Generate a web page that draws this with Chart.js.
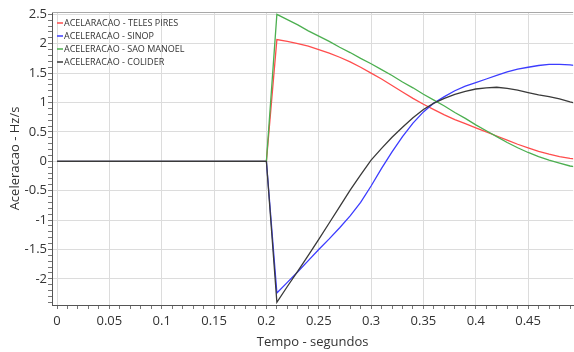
<!DOCTYPE html>
<html>
<head>
<meta charset="utf-8">
<script src="https://cdn.jsdelivr.net/npm/chart.js@4/dist/chart.umd.min.js"></script>
<style>
  body { margin: 0; background: #fff; }
  #wrap { width: 574px; height: 352px; }
</style>
</head>
<body>
<div id="wrap"><canvas id="chart" width="574" height="352"></canvas></div>
<script>
const tempo = [0, 0.2, 0.21, 0.22, 0.23, 0.24, 0.25, 0.26, 0.27, 0.28, 0.29, 0.3,
  0.31, 0.32, 0.33, 0.34, 0.35, 0.36, 0.37, 0.38, 0.39, 0.4,
  0.41, 0.42, 0.43, 0.44, 0.45, 0.46, 0.47, 0.48, 0.49, 0.5];

const telesPires = [0, 0, 2.07, 2.04, 2.0, 1.96, 1.9, 1.84, 1.77, 1.69, 1.6, 1.5,
  1.4, 1.29, 1.18, 1.07, 0.97, 0.88, 0.79, 0.71, 0.64, 0.57,
  0.5, 0.43, 0.36, 0.29, 0.23, 0.17, 0.12, 0.08, 0.05, 0.03];
const sinop = [0, 0, -2.24, -2.06, -1.88, -1.69, -1.5, -1.32, -1.13, -0.93, -0.7, -0.42,
  -0.12, 0.16, 0.42, 0.65, 0.84, 0.99, 1.1, 1.2, 1.28, 1.34,
  1.4, 1.46, 1.52, 1.57, 1.6, 1.63, 1.65, 1.65, 1.64, 1.62];
const saoManoel = [0, 0, 2.5, 2.41, 2.32, 2.22, 2.13, 2.04, 1.94, 1.85, 1.75, 1.66,
  1.56, 1.46, 1.35, 1.25, 1.14, 1.04, 0.94, 0.83, 0.73, 0.62,
  0.52, 0.42, 0.32, 0.23, 0.15, 0.08, 0.02, -0.03, -0.08, -0.11];
const colider = [0, 0, -2.4, -2.13, -1.87, -1.6, -1.33, -1.05, -0.77, -0.49, -0.23, 0.02,
  0.22, 0.41, 0.58, 0.74, 0.88, 0.99, 1.07, 1.14, 1.19, 1.23,
  1.25, 1.26, 1.24, 1.21, 1.17, 1.13, 1.1, 1.06, 1.01, 0.97];

const xMajor = [0, 0.05, 0.1, 0.15, 0.2, 0.25, 0.3, 0.35, 0.4, 0.45];
const yMajor = [-2, -1.5, -1, -0.5, 0, 0.5, 1, 1.5, 2, 2.5];

const seriesNames = [
  "ACELARACAO - TELES PIRES",
  "ACELERACAO - SINOP",
  "ACELERACAO - SAO MANOEL",
  "ACELERACAO - COLIDER",
];
const seriesColors = ["#ff4d4d", "#3c3cff", "#4caf50", "#3a3a3a"];
const seriesValues = [telesPires, sinop, saoManoel, colider];

const FONT = "'Open Sans', 'Noto Sans', sans-serif";

function points(values) {
  return tempo.map((t, i) => ({ x: t, y: values[i] }));
}

function isMajor(list, v) {
  return list.some((m) => Math.abs(m - v) < 1e-9);
}

// minor ticks every 0.01 on x and 0.1 on y, labels only on the majors
function steps(from, to, step) {
  const out = [];
  const n = Math.round((to - from) / step);
  for (let i = 0; i <= n; i++) out.push(Math.round((from + i * step) * 1000) / 1000);
  return out;
}

const insideLegend = {
  id: "insideLegend",
  afterDatasetsDraw(chart) {
    const { ctx, chartArea } = chart;
    ctx.save();
    ctx.font = "9px " + FONT;
    ctx.textBaseline = "middle";
    chart.data.datasets.forEach((ds, i) => {
      const y = chartArea.top + 11 + i * 13;
      const x = chartArea.left + 5;
      ctx.strokeStyle = ds.borderColor;
      ctx.lineWidth = 1.5;
      ctx.beginPath();
      ctx.moveTo(x, y);
      ctx.lineTo(x + 6, y);
      ctx.stroke();
      ctx.fillStyle = "#333";
      ctx.fillText(ds.label, x + 7, y);
    });
    // frame line along the top of the plot
    ctx.strokeStyle = "#a8a8a8";
    ctx.lineWidth = 1;
    ctx.beginPath();
    ctx.moveTo(chartArea.left, chartArea.top + 0.5);
    ctx.lineTo(chartArea.right, chartArea.top + 0.5);
    ctx.stroke();
    ctx.restore();
  },
};

new Chart(document.getElementById("chart"), {
  type: "line",
  data: {
    datasets: seriesNames.map((name, i) => ({
      label: name,
      data: points(seriesValues[i]),
      borderColor: seriesColors[i],
      backgroundColor: seriesColors[i],
      borderWidth: 1.3,
      pointRadius: 0,
      tension: 0,
      fill: false,
      order: seriesNames.length - i, // later series on top
    })),
  },
  options: {
    responsive: false,
    animation: false,
    layout: { padding: { top: 12, right: 0, left: 0, bottom: 0 } },
    plugins: {
      legend: { display: false },
      tooltip: { enabled: false },
    },
    scales: {
      x: {
        type: "linear",
        min: -0.0048,
        max: 0.493,
        afterFit(scale) { scale.height = 47; },
        afterBuildTicks(scale) {
          scale.ticks = steps(0, 0.49, 0.01).map((v) => ({ value: v }));
        },
        ticks: {
          autoSkip: false,
          maxRotation: 0,
          padding: 4,
          color: "#333",
          font: { family: FONT, size: 13 },
          callback(value) {
            return isMajor(xMajor, value) ? String(value) : "";
          },
        },
        grid: {
          color(ctx) {
            return ctx.tick && isMajor(xMajor, ctx.tick.value) ? "#dcdcdc" : "rgba(0,0,0,0)";
          },
          tickColor: "#777",
          tickLength: 4,
        },
        border: { color: "#555", width: 1 },
        title: {
          display: true,
          text: "Tempo - segundos",
          color: "#333",
          font: { family: FONT, size: 13 },
          padding: { top: 0, bottom: 2 },
        },
      },
      y: {
        type: "linear",
        min: -2.445,
        max: 2.54,
        afterFit(scale) { scale.width = 52; },
        afterBuildTicks(scale) {
          scale.ticks = steps(-2.4, 2.5, 0.1).map((v) => ({ value: v }));
        },
        ticks: {
          autoSkip: false,
          padding: 1,
          color: "#333",
          font: { family: FONT, size: 13 },
          callback(value) {
            return isMajor(yMajor, value) ? String(value) : "";
          },
        },
        grid: {
          color(ctx) {
            return ctx.tick && isMajor(yMajor, ctx.tick.value) ? "#dcdcdc" : "rgba(0,0,0,0)";
          },
          tickColor: "#777",
          tickLength: 4,
        },
        border: { color: "#555", width: 1 },
        title: {
          display: true,
          text: "Aceleracao - Hz/s",
          color: "#333",
          font: { family: FONT, size: 13 },
          padding: { top: 7, bottom: 0 },
        },
      },
    },
  },
  plugins: [insideLegend],
});
</script>
</body>
</html>
